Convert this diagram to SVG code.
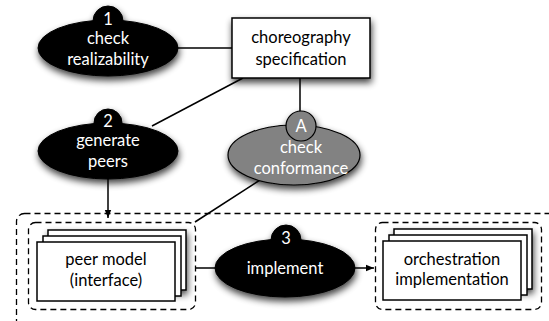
<svg xmlns="http://www.w3.org/2000/svg" width="549" height="321" viewBox="0 0 549 321">
<defs>
<filter id="sh" x="-30%" y="-30%" width="160%" height="170%">
<feGaussianBlur in="SourceAlpha" stdDeviation="3.5"/>
<feOffset dx="1" dy="4" result="b"/>
<feComponentTransfer><feFuncA type="linear" slope="0.75"/></feComponentTransfer>
<feMerge><feMergeNode/><feMergeNode in="SourceGraphic"/></feMerge>
</filter>
<marker id="ar" viewBox="0 0 10 10" refX="10" refY="5" markerWidth="8" markerHeight="8" markerUnits="userSpaceOnUse" orient="auto">
<path d="M0,1 L10,5 L0,9 Z" fill="#000"/>
</marker>
</defs>
<style>
text{font-family:Lato,"Open Sans","DejaVu Sans",sans-serif;font-size:16.5px;text-anchor:middle}
.w{fill:#fff}
.k{fill:#000}
.box{fill:#fff;stroke:#000;stroke-width:1.5}
.blk{fill:#000;stroke:#000;stroke-width:1}
.gry{fill:#828282;stroke:#000;stroke-width:1.2}
.ln{fill:none;stroke:#000;stroke-width:1.5}
.dash{fill:none;stroke:#000;stroke-width:1.3;stroke-dasharray:6 4}
</style>
<rect width="549" height="321" fill="#fff"/>
<g id="connectors">
<line class="ln" x1="176" y1="48" x2="232" y2="48"/>
<line class="ln" x1="243" y1="78" x2="152" y2="126"/>
<line class="ln" x1="300" y1="78" x2="300" y2="112"/>
<line class="ln" x1="260" y1="180" x2="195" y2="222"/>
<line class="ln" x1="108" y1="178" x2="108" y2="218" marker-end="url(#ar)"/>
<line class="ln" x1="196" y1="268" x2="216" y2="268"/>
<line class="ln" x1="354" y1="268" x2="374" y2="268" marker-end="url(#ar)"/>
</g>
<g id="group-outer">
<rect class="dash" x="16.5" y="213.5" width="545" height="130" rx="8"/>
</g>
<g id="group-peer">
<rect class="dash" x="28.5" y="222.5" width="167" height="87" rx="7"/>
</g>
<g id="group-orch">
<rect class="dash" x="375.5" y="222.5" width="166" height="87" rx="7"/>
</g>
<g id="node-spec">
<rect class="box" x="232" y="18" width="138" height="60" filter="url(#sh)"/>
<text x="301" y="43" class="k">choreography</text>
<text x="301" y="65" class="k">specification</text>
</g>
<g id="node-realizability">
<g filter="url(#sh)">
<circle class="blk" cx="108" cy="21" r="15"/>
<ellipse class="blk" cx="108" cy="48" rx="70" ry="28"/>
</g>
<text x="108" y="25" class="w">1</text>
<text x="108" y="44" class="w">check</text>
<text x="108" y="65" class="w">realizability</text>
</g>
<g id="node-generate">
<g filter="url(#sh)">
<circle class="blk" cx="108" cy="123" r="14"/>
<ellipse class="blk" cx="108" cy="151" rx="70" ry="28"/>
</g>
<text x="108" y="127" class="w">2</text>
<text x="108" y="146" class="w">generate</text>
<text x="108" y="167" class="w">peers</text>
</g>
<g id="node-conformance">
<g filter="url(#sh)">
<ellipse class="gry" cx="294" cy="155" rx="66" ry="30"/>
<circle class="gry" cx="301" cy="126" r="15"/>
</g>
<text x="301" y="132" class="w">A</text>
<text x="301" y="153" class="w">check</text>
<text x="301" y="174" class="w">conformance</text>
</g>
<g id="node-peer">
<rect class="box" x="48" y="230" width="138" height="60" filter="url(#sh)"/>
<rect class="box" x="43" y="236" width="138" height="60"/>
<rect class="box" x="37" y="242" width="138" height="59"/>
<text x="106" y="265" class="k">peer model</text>
<text x="106" y="286" class="k">(interface)</text>
</g>
<g id="node-implement">
<g filter="url(#sh)">
<circle class="blk" cx="286" cy="240" r="15"/>
<ellipse class="blk" cx="285" cy="268" rx="70" ry="29"/>
</g>
<text x="286" y="244" class="w">3</text>
<text x="285" y="274" class="w">implement</text>
</g>
<g id="node-orch">
<rect class="box" x="394" y="229" width="138" height="60" filter="url(#sh)"/>
<rect class="box" x="389" y="235" width="138" height="60"/>
<rect class="box" x="383" y="241" width="138" height="59"/>
<text x="452" y="265" class="k">orchestration</text>
<text x="452" y="285" class="k">implementation</text>
</g>
</svg>
